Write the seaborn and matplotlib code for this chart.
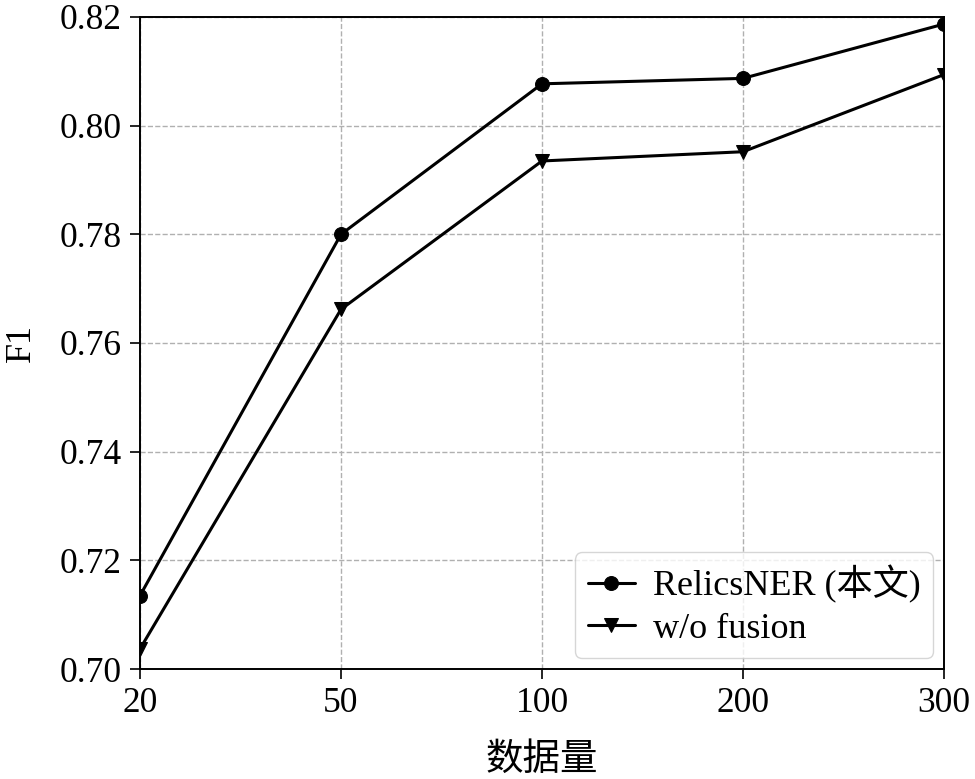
import matplotlib
matplotlib.use("Agg")
import matplotlib.pyplot as plt
import seaborn as sns
import pandas as pd

sizes = ["20", "50", "100", "200", "300"]
relics = [0.7135, 0.7800, 0.8077, 0.8087, 0.8187]
wo_fusion = [0.7037, 0.7662, 0.7935, 0.7952, 0.8094]
series_names = ["RelicsNER (本文)", "w/o fusion"]
yticks = [0.70, 0.72, 0.74, 0.76, 0.78, 0.80, 0.82]

df = pd.DataFrame({
    "size": sizes * 2,
    "F1": relics + wo_fusion,
    "model": [series_names[0]] * len(sizes) + [series_names[1]] * len(sizes),
})

sns.set_style("ticks")
plt.rcParams["font.family"] = ["Liberation Serif", "Noto Sans CJK SC"]
plt.rcParams["mathtext.fontset"] = "stix"
plt.rcParams["text.color"] = "black"
plt.rcParams["axes.labelcolor"] = "black"
plt.rcParams["xtick.color"] = "black"
plt.rcParams["ytick.color"] = "black"

fig = plt.figure(figsize=(9.75, 7.79), dpi=100)
ax = fig.add_axes([0.1436, 0.1412, 0.8246, 0.837])

sns.lineplot(data=df, x="size", y="F1", hue="model", style="model",
             palette=["black", "black"], markers=["o", "v"], dashes=False,
             markersize=10, linewidth=2.2, markeredgecolor="black",
             sort=False, ax=ax)

ax.set_xlim(0, len(sizes) - 1)
ax.set_ylim(0.70, 0.82)
ax.set_yticks(yticks)
ax.set_yticklabels([f"{v:.2f}" for v in yticks])
ax.grid(True, linestyle="--", color="#b0b0b0", linewidth=1.0)
ax.tick_params(labelsize=25.5, direction="out", length=7, width=1.2,
               colors="black", labelcolor="black", pad=6)
for s in ax.spines.values():
    s.set_linewidth(1.4)
    s.set_color("black")

ax.set_xlabel("数据量", fontsize=27, family=["Noto Sans CJK SC"], labelpad=14, color="black")
ax.set_ylabel("F1", fontsize=26, labelpad=16, color="black")

leg = ax.legend(loc="lower right", fontsize=26, frameon=True, handlelength=1.3,
                handletextpad=0.5, borderpad=0.35, labelspacing=0.25,
                borderaxespad=0.3)
leg.get_frame().set_edgecolor("#cccccc")
leg.get_frame().set_linewidth(1.0)
for t in leg.get_texts():
    t.set_fontfamily(["Liberation Serif", "Noto Sans CJK SC"])
    t.set_color("black")

fig.savefig("out.png", dpi=100)
